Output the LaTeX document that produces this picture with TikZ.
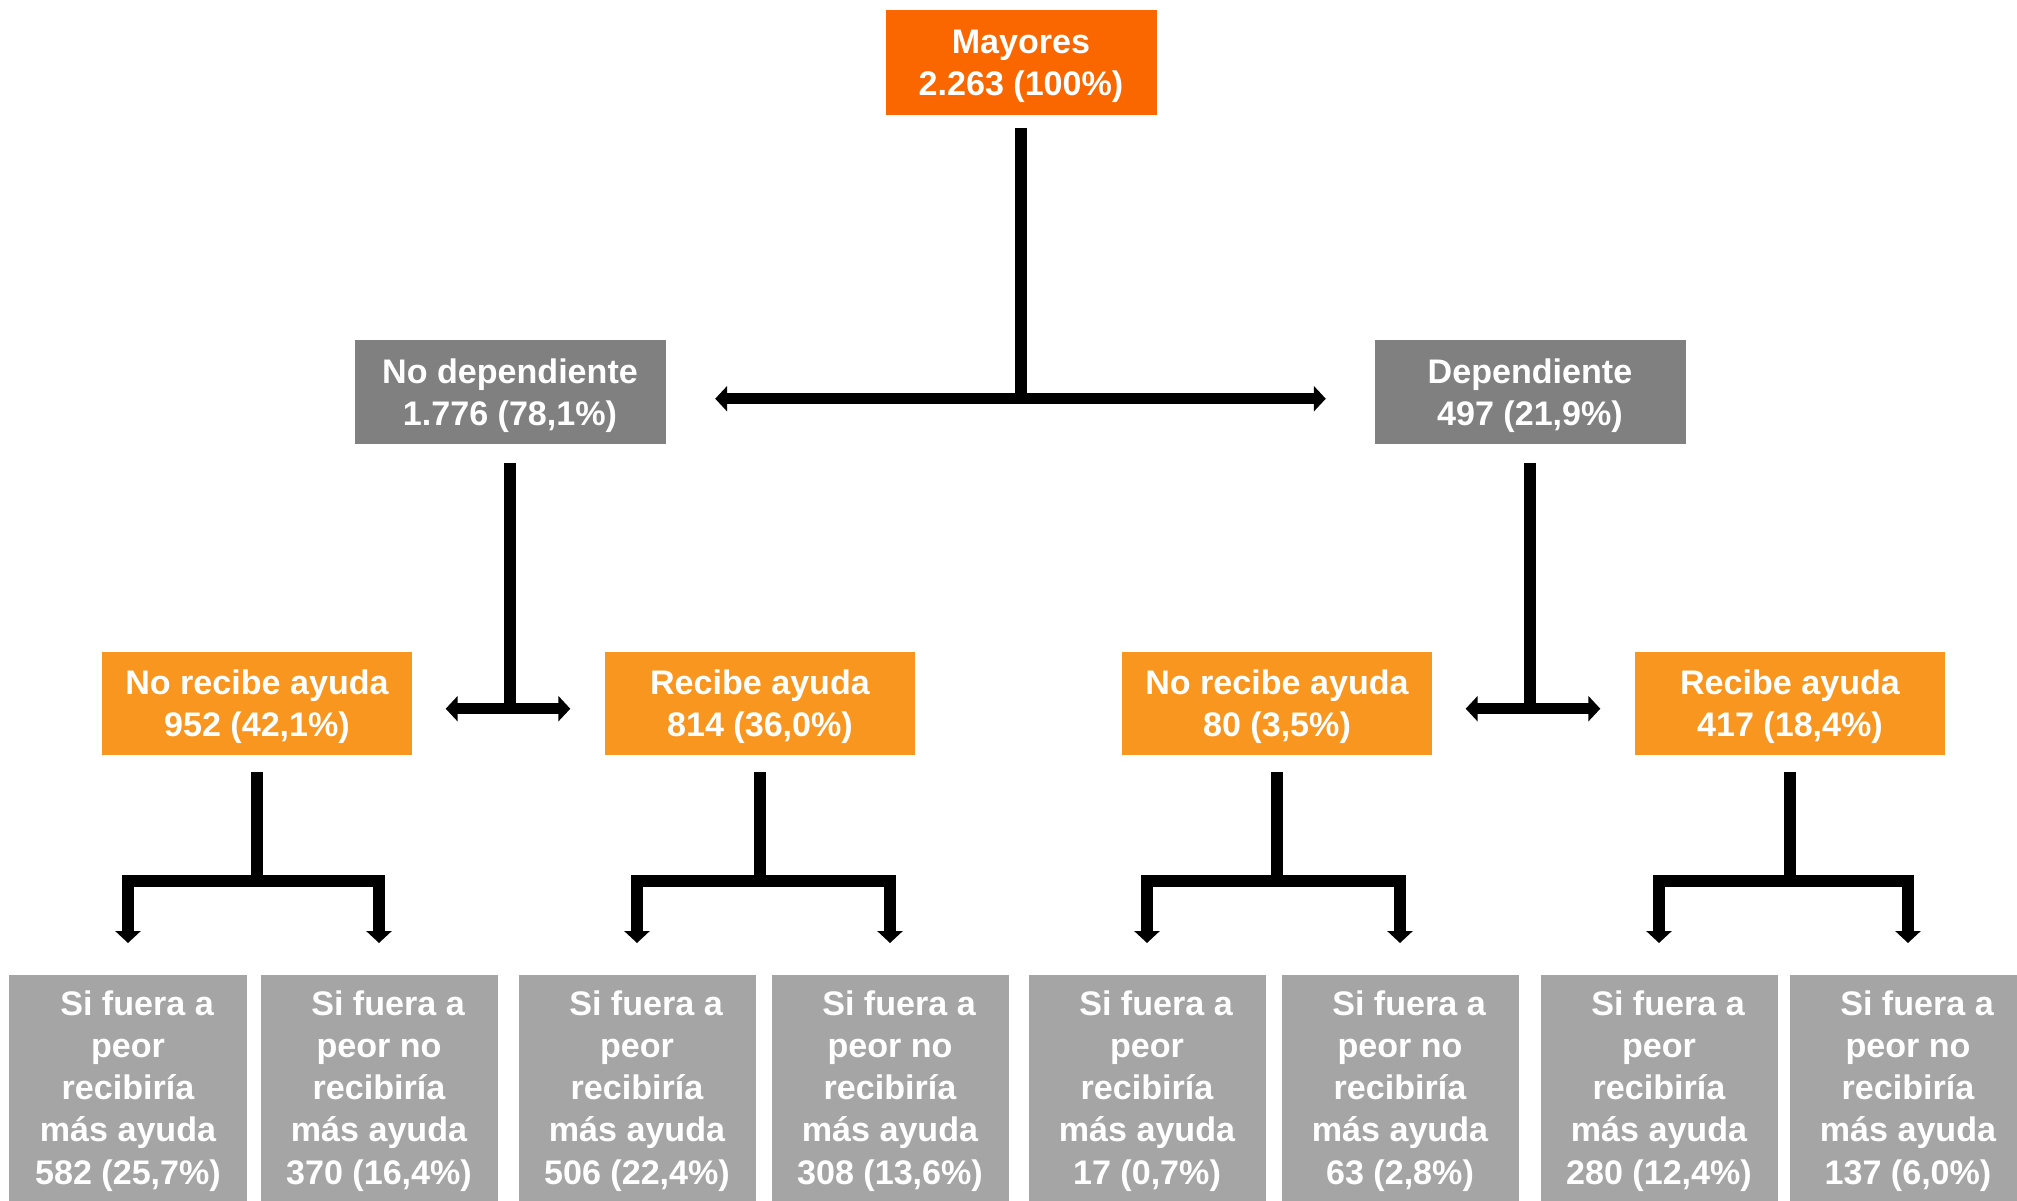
\documentclass[tikz,border=0pt]{standalone}
\usepackage{fontspec}
\setmainfont{Liberation Sans}
\usetikzlibrary{arrows.meta,positioning,calc}

\definecolor{raiz}{HTML}{FA6600}
\definecolor{naranja}{HTML}{F99620}
\definecolor{grisosc}{HTML}{808080}
\definecolor{grisclaro}{HTML}{A5A5A5}

\begin{document}
\begin{tikzpicture}[
  font=\fontsize{9.7}{12}\selectfont\bfseries,
  caja/.style={draw=none,align=center,text=white,inner sep=0pt},
  raizbox/.style={caja,fill=raiz,text depth=0pt,minimum width=27.1mm,minimum height=10.5mm},
  grupo/.style={caja,fill=grisosc,text depth=0pt,minimum width=31.1mm,minimum height=10.4mm},
  ayuda/.style={caja,fill=naranja,text depth=0pt,minimum width=31.0mm,minimum height=10.3mm},
  hoja/.style={caja,fill=grisclaro,minimum width=23.7mm,anchor=north,
               inner xsep=0pt,inner ysep=1.6mm},
  link/.style={line width=1.15mm,line cap=butt},
  tip/.style={-{Triangle[length=1.2mm,width=2.5mm]}},
  tips/.style={{Triangle[length=1.2mm,width=2.5mm]}-{Triangle[length=1.2mm,width=2.5mm]}},
]
\useasboundingbox (0,0) rectangle (20.17,-12);

% row heights
\def\rowA{-0.625} \def\rowB{-3.92} \def\rowC{-7.03} \def\rowD{-9.74}

% ---------------- boxes ----------------
\node[raizbox] (mayores) at (10.21,\rowA) {Mayores\\2.263 (100\%)};

\node[grupo] (nodep) at (5.10,\rowB)  {No dependiente\\1.776 (78,1\%)};
\node[grupo] (dep)   at (15.30,\rowB) {Dependiente\\497 (21,9\%)};

\node[ayuda] (nodepno) at (2.57,\rowC)  {No recibe ayuda\\952 (42,1\%)};
\node[ayuda] (nodepsi) at (7.60,\rowC)  {Recibe ayuda\\814 (36,0\%)};
\node[ayuda] (depno)   at (12.77,\rowC) {No recibe ayuda\\80 (3,5\%)};
\node[ayuda] (depsi)   at (17.90,\rowC) {Recibe ayuda\\417 (18,4\%)};

\def\si{\hspace*{1.8mm}Si fuera a}
\node[hoja] (h1) at (1.28,\rowD)  {\si\\peor\\recibiría\\más ayuda\\582 (25,7\%)};
\node[hoja] (h2) at (3.79,\rowD)  {\si\\peor no\\recibiría\\más ayuda\\370 (16,4\%)};
\node[hoja] (h3) at (6.37,\rowD)  {\si\\peor\\recibiría\\más ayuda\\506 (22,4\%)};
\node[hoja] (h4) at (8.90,\rowD)  {\si\\peor no\\recibiría\\más ayuda\\308 (13,6\%)};
\node[hoja] (h5) at (11.47,\rowD) {\si\\peor\\recibiría\\más ayuda\\17 (0,7\%)};
\node[hoja] (h6) at (14.00,\rowD) {\si\\peor no\\recibiría\\más ayuda\\63 (2,8\%)};
\node[hoja] (h7) at (16.59,\rowD) {\si\\peor\\recibiría\\más ayuda\\280 (12,4\%)};
\node[hoja] (h8) at (19.08,\rowD) {\si\\peor no\\recibiría\\más ayuda\\137 (6,0\%)};

% ---------------- first split ----------------
\coordinate (jA) at ($(mayores.south)+(0,-2.83)$);
\draw[link] ([yshift=-1.2mm]mayores.south) -- ([yshift=-0.55mm]jA);
\draw[link,tips] ([xshift=4.9mm]nodep.east |- jA) -- ([xshift=-4.8mm]dep.west |- jA);

% ---------------- second split ----------------
\foreach \g/\a/\b in {nodep/nodepno/nodepsi,dep/depno/depsi}{
  \coordinate (\g j) at ($(\g.south)+(0,-2.64)$);
  \draw[link] ([yshift=-1.8mm]\g.south) -- ([yshift=-0.55mm]\g j);
  \draw[link,tips] ([xshift=3.3mm]\a.east |- \g j) -- ([xshift=-3.4mm]\b.west |- \g j);
}

% ---------------- third split ----------------
\foreach \o/\l/\r in {nodepno/h1/h2,nodepsi/h3/h4,depno/h5/h6,depsi/h7/h8}{
  \coordinate (\o j) at ($(\o.south)+(0,-1.26)$);
  \draw[link] ([yshift=-1.7mm]\o.south) -- (\o j);
  \draw[link,tip] (\o j) -| ([yshift=3.1mm]\l.north);
  \draw[link,tip] (\o j) -| ([yshift=3.1mm]\r.north);
}

\end{tikzpicture}
\end{document}
